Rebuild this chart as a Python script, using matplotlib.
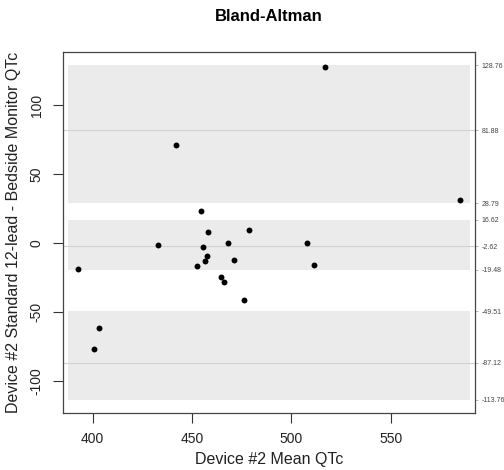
import matplotlib
matplotlib.use("Agg")
import matplotlib.pyplot as plt

plt.rcParams['font.family'] = ['Liberation Sans', 'DejaVu Sans']
plt.rcParams['axes.unicode_minus'] = False

# Data
mean_qtc = [517.1, 441.7, 584.6, 454.6, 458.1, 478.5, 433.0, 455.6, 468.1, 508.0,
            457.4, 456.4, 471.0, 452.4, 511.1, 392.8, 464.5, 466.1, 476.0, 403.2, 400.5]
diff_qtc = [127.8, 70.7, 30.8, 23.0, 7.8, 9.0, -1.9, -2.9, 0.0, 0.0,
            -9.2, -13.1, -12.1, -16.9, -16.0, -19.1, -24.9, -28.3, -41.8, -61.7, -77.0]

# Agreement limits and their confidence bands
upper_loa = 81.88
upper_ci = (28.79, 128.76)
bias = -2.62
bias_ci = (-19.48, 16.62)
lower_loa = -87.12
lower_ci = (-113.76, -49.51)

right_labels = ["128.76", "81.88", "28.79", "16.62", "-2.62", "-19.48", "-49.51", "-87.12", "-113.76"]
right_values = [128.76, 81.88, 28.79, 16.62, -2.62, -19.48, -49.51, -87.12, -113.76]

x_ticks = [400, 450, 500, 550]
y_ticks = [-100, -50, 0, 50, 100]

fig = plt.figure(figsize=(5.04, 4.70), dpi=100)
ax = fig.add_axes([0.125, 0.1213, 0.8175, 0.768])

band_color = '#EBEBEB'
line_color = '#D2D2D2'
x0 = min(mean_qtc) - 5
x1 = max(mean_qtc) + 5
for lo, hi in (upper_ci, bias_ci, lower_ci):
    ax.fill_between([x0, x1], [lo, lo], [hi, hi], color=band_color, lw=0, zorder=1)
for yv in (upper_loa, bias, lower_loa):
    ax.axhline(yv, color=line_color, lw=0.8, zorder=2)

ax.scatter(mean_qtc, diff_qtc, s=18, color='black', zorder=3, linewidths=0)

# R-style 4% expansion
xmin, xmax = min(mean_qtc), max(mean_qtc)
ymin, ymax = min(lower_ci), max(upper_ci)
dx = (xmax - xmin) * 0.04
dy = (ymax - ymin) * 0.04
ax.set_xlim(xmin - dx, xmax + dx)
ax.set_ylim(ymin - dy, ymax + dy)

ax.set_xticks(x_ticks)
ax.set_yticks(y_ticks)
ax.tick_params(axis='both', length=7, width=0.8, color='#333333', labelsize=10, pad=7,
               labelcolor='#222222')
for lab in ax.get_yticklabels():
    lab.set_rotation(90)
    lab.set_va('center')
for sp in ax.spines.values():
    sp.set_color('#444444')
    sp.set_linewidth(0.9)

ax.set_xlabel("Device #2 Mean QTc", fontsize=11.5, color='#222222', labelpad=4)
ax.set_ylabel("Device #2 Standard 12-lead - Bedside Monitor QTc", fontsize=11.5,
              color='#222222', labelpad=6)
ax.set_title("Bland-Altman", fontsize=12, fontweight='bold', pad=22)

sec = ax.secondary_yaxis('right')
sec.set_yticks(right_values)
sec.set_yticklabels(right_labels)
sec.tick_params(length=2, width=0.5, color='#999999', labelsize=5, pad=3, labelcolor='#444444')
sec.spines['right'].set_visible(False)

fig.savefig("out.png", dpi=100)
